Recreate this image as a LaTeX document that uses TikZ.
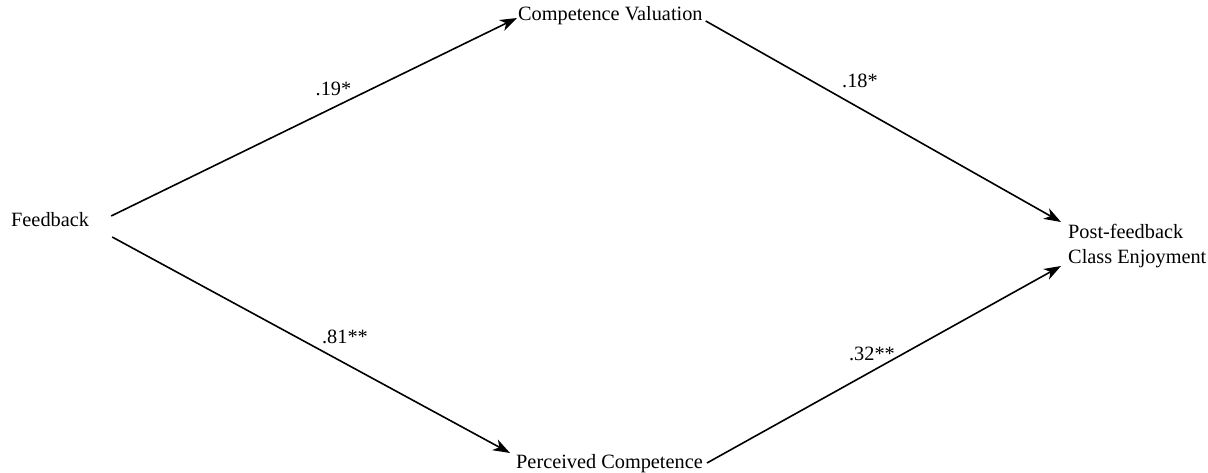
\documentclass[tikz,border=0pt]{standalone}
\usepackage{fontspec}
\setmainfont{Liberation Serif}
\usetikzlibrary{arrows.meta}
\begin{document}
\begin{tikzpicture}[x=1pt,y=1pt,
  lbl/.style={inner sep=0pt, font=\fontsize{20.3}{25}\selectfont},
  coef/.style={inner sep=0pt, font=\fontsize{20.3}{25}\selectfont},
  path/.style={line width=1.6pt, -{Stealth[length=17pt,width=12pt,inset=5pt]}}]
\useasboundingbox (0,0) rectangle (1208,473);
\node[lbl, anchor=base west] (fb) at (11,246) {Feedback};
\node[lbl, anchor=base west] (cv) at (518,452) {Competence Valuation};
\node[lbl, anchor=base west] (pc) at (516,4) {Perceived Competence};
\node[lbl, anchor=west, align=left] (pf) at (1068,226.5) {Post-feedback\\Class Enjoyment};
\draw[path] ([shift={(22,11)}]fb.base east) -- ([shift={(-1,3)}]cv.base west);
\draw[path] ([shift={(3,0)}]cv.base east) -- ([shift={(-7,24.5)}]pf.west);
\draw[path] ([shift={(23,-10)}]fb.base east) -- ([shift={(-6,16)}]pc.base west);
\draw[path] ([shift={(4,6)}]pc.base east) -- ([shift={(-7,-19.5)}]pf.west);
\node[coef] (c1) at (333.5,384) {.19*};
\node[coef] (c2) at (860,392) {.18*};
\node[coef] (c3) at (345,136) {.81**};
\node[coef] (c4) at (872,119) {.32**};
\end{tikzpicture}
\end{document}
